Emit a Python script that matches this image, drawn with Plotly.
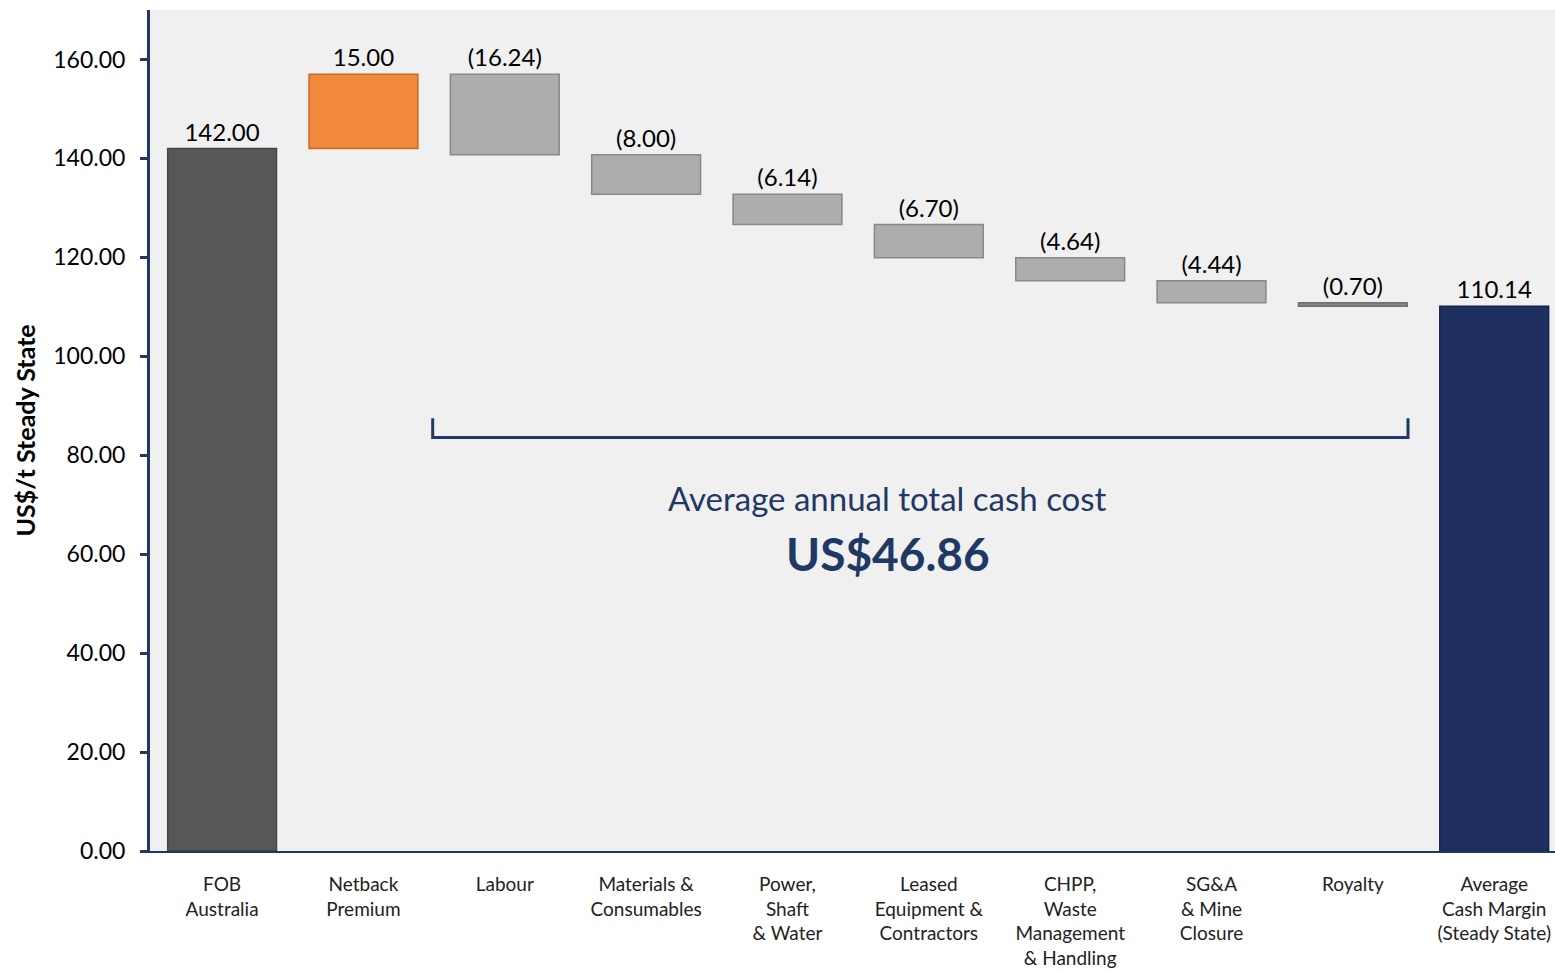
import plotly.graph_objects as go

categories = ["FOB<br>Australia", "Netback<br>Premium", "Labour", "Materials &<br>Consumables",
              "Power,<br>Shaft<br>& Water", "Leased<br>Equipment &<br>Contractors",
              "CHPP,<br>Waste<br>Management<br>& Handling", "SG&A<br>& Mine<br>Closure",
              "Royalty", "Average<br>Cash Margin<br>(Steady State)"]
measures = ["absolute", "relative", "relative", "relative", "relative", "relative",
            "relative", "relative", "relative", "total"]
values = [142.00, 15.00, -16.24, -8.00, -6.14, -6.70, -4.64, -4.44, -0.70, 110.14]
labels = ["142.00", "15.00", "(16.24)", "(8.00)", "(6.14)", "(6.70)", "(4.64)", "(4.44)", "(0.70)", "110.14"]
y_ticks = [0, 20, 40, 60, 80, 100, 120, 140, 160]
cash_cost_label = "US$46.86"

fills = ["#575757", "#F0893A", "#ADADAD", "#ADADAD", "#ADADAD", "#ADADAD",
         "#ADADAD", "#ADADAD", "#858585", "#1F3060"]
edges = ["#444444", "#C66C22", "#888888", "#888888", "#888888", "#888888",
         "#888888", "#888888", "#707070", "#17244A"]

# compute bar bottoms and heights from the waterfall values
bases, heights = [], []
running = 0.0
for m, v in zip(measures, values):
    if m == "absolute":
        bases.append(0.0); heights.append(v); running = v
    elif m == "total":
        bases.append(0.0); heights.append(running)
    else:
        new = running + v
        bases.append(min(running, new)); heights.append(abs(v)); running = new

x_idx = list(range(len(categories)))
NAVY = "#1F3864"
FONT = "Lato, Open Sans, sans-serif"

fig = go.Figure()
fig.add_trace(go.Bar(
    x=x_idx, y=heights, base=bases, width=0.77,
    marker=dict(color=fills, line=dict(color=edges, width=1.5)),
    text=labels, textposition="outside", cliponaxis=False, constraintext="none",
    textfont=dict(family=FONT, size=24, color="#000000"),
    hoverinfo="skip", showlegend=False,
))

# bracket under the cost bars
br_x0, br_x1, br_y, br_top = 1.49, 8.39, 83.6, 87.5
fig.add_shape(type="path", xref="x", yref="y",
              path=f"M {br_x0} {br_top} L {br_x0} {br_y} L {br_x1} {br_y} L {br_x1} {br_top}",
              line=dict(color=NAVY, width=3))

fig.add_annotation(x=4.71, y=71.3, xref="x", yref="y", text="Average annual total cash cost",
                   showarrow=False, font=dict(family=FONT, size=33, color=NAVY))
fig.add_annotation(x=4.71, y=60.2, xref="x", yref="y", text=f"<b>{cash_cost_label}</b>",
                   showarrow=False, font=dict(family=FONT, size=46, color=NAVY))

fig.add_annotation(x=-0.089, y=0.5, xref="paper", yref="paper", text="<b>US$/t Steady State</b>",
                   textangle=-90, showarrow=False, xanchor="center", yanchor="middle",
                   font=dict(family=FONT, size=25, color="#000000"))

fig.update_layout(
    width=1555, height=973,
    margin=dict(l=150, r=0, t=10, b=122),
    paper_bgcolor="white", plot_bgcolor="#F0F0F0",
    font=dict(family=FONT),
    bargap=0.2,
)
fig.update_xaxes(
    tickmode="array", tickvals=x_idx, ticktext=categories,
    range=[-0.51, 9.43], showgrid=False, zeroline=False,
    showline=True, linecolor=NAVY, linewidth=2, ticks="",
    ticklabelstandoff=15,
    tickfont=dict(family=FONT, size=19, color="#222222"),
)
fig.update_yaxes(
    range=[0, 170], tickvals=y_ticks, tickformat=".2f",
    showgrid=False, zeroline=False, showline=True, linecolor=NAVY, linewidth=3,
    ticks="outside", ticklen=7, tickwidth=3, tickcolor=NAVY,
    ticklabelstandoff=10,
    tickfont=dict(family=FONT, size=23, color="#000000"),
)

fig.write_html("out.html", config={"displayModeBar": False},
               post_script="document.body.style.margin='0';document.body.style.overflow='hidden';")
